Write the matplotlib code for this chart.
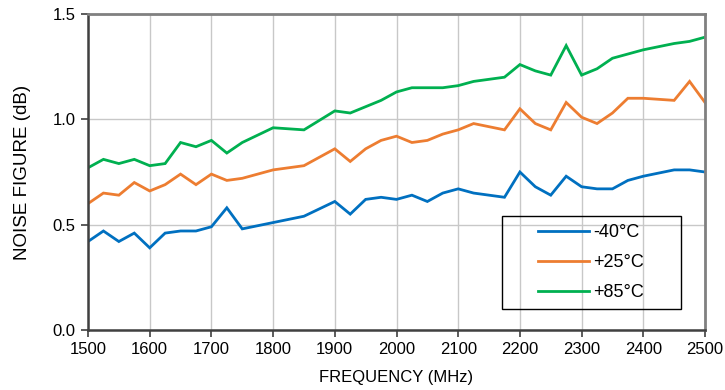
import matplotlib.pyplot as plt
from matplotlib.patches import Rectangle

plt.rcParams['font.family'] = ['Liberation Sans', 'DejaVu Sans']

# frequency points (MHz) and noise figure (dB) per temperature
freq = [1500, 1525, 1550, 1575, 1600, 1625, 1650, 1675, 1700, 1725, 1750,
        1800, 1850, 1900, 1925, 1950, 1975, 2000, 2025, 2050, 2075, 2100,
        2125, 2175, 2200, 2225, 2250, 2275, 2300, 2325, 2350, 2375, 2400,
        2450, 2475, 2500]
nf_m40 = [0.42, 0.47, 0.42, 0.46, 0.39, 0.46, 0.47, 0.47, 0.49, 0.58, 0.48,
          0.51, 0.54, 0.61, 0.55, 0.62, 0.63, 0.62, 0.64, 0.61, 0.65, 0.67,
          0.65, 0.63, 0.75, 0.68, 0.64, 0.73, 0.68, 0.67, 0.67, 0.71, 0.73,
          0.76, 0.76, 0.75]
nf_p25 = [0.60, 0.65, 0.64, 0.70, 0.66, 0.69, 0.74, 0.69, 0.74, 0.71, 0.72,
          0.76, 0.78, 0.86, 0.80, 0.86, 0.90, 0.92, 0.89, 0.90, 0.93, 0.95,
          0.98, 0.95, 1.05, 0.98, 0.95, 1.08, 1.01, 0.98, 1.03, 1.10, 1.10,
          1.09, 1.18, 1.08]
nf_p85 = [0.77, 0.81, 0.79, 0.81, 0.78, 0.79, 0.89, 0.87, 0.90, 0.84, 0.89,
          0.96, 0.95, 1.04, 1.03, 1.06, 1.09, 1.13, 1.15, 1.15, 1.15, 1.16,
          1.18, 1.20, 1.26, 1.23, 1.21, 1.35, 1.21, 1.24, 1.29, 1.31, 1.33,
          1.36, 1.37, 1.39]

series = [('-40°C', nf_m40, '#0070C0'),
          ('+25°C', nf_p25, '#ED7D31'),
          ('+85°C', nf_p85, '#00B050')]

W, H = 725, 390
fig = plt.figure(figsize=(W / 100, H / 100), dpi=100)
ax = fig.add_axes([88 / W, 60 / H, 617 / W, 316 / H])

for label, vals, color in series:
    ax.plot(freq, vals, color=color, lw=2.0, label=label, solid_joinstyle='miter')

ax.set_xlim(1500, 2500)
ax.set_ylim(0, 1.5)
ax.set_xticks(range(1500, 2501, 100))
ax.set_yticks([0, 0.5, 1.0, 1.5])
ax.set_yticklabels(['0.0', '0.5', '1.0', '1.5'])
ax.grid(True, color='#c8c8c8', lw=1.0)
ax.set_axisbelow(True)

for side in ('top', 'right'):
    ax.spines[side].set_color('#808080')
    ax.spines[side].set_linewidth(2.0)
for side in ('left', 'bottom'):
    ax.spines[side].set_color('#404040')
    ax.spines[side].set_linewidth(1.8)

ax.tick_params(axis='both', direction='out', length=5, width=1.2,
               color='#404040', labelsize=12, pad=4)
ax.set_xlabel('FREQUENCY (MHz)', fontsize=12)
ax.set_ylabel('NOISE FIGURE (dB)', fontsize=13.5)
ax.xaxis.set_label_coords(0.5, -0.128)
ax.yaxis.set_label_coords(-0.093, 0.5)

# legend: box drawn separately, entries placed inside it
fig.patches.append(Rectangle((502 / W, 1 - 309 / H), 179 / W, 93 / H,
                             transform=fig.transFigure, fill=False,
                             edgecolor='black', lw=1.0, zorder=5))
ax.legend(loc='upper left', bbox_to_anchor=(538 / W, 1 - 224 / H),
          bbox_transform=fig.transFigure, fontsize=13, frameon=False,
          handlelength=2.8, handletextpad=0.25, labelspacing=0.72,
          borderpad=0, borderaxespad=0)

fig.savefig('out.png', dpi=100)
